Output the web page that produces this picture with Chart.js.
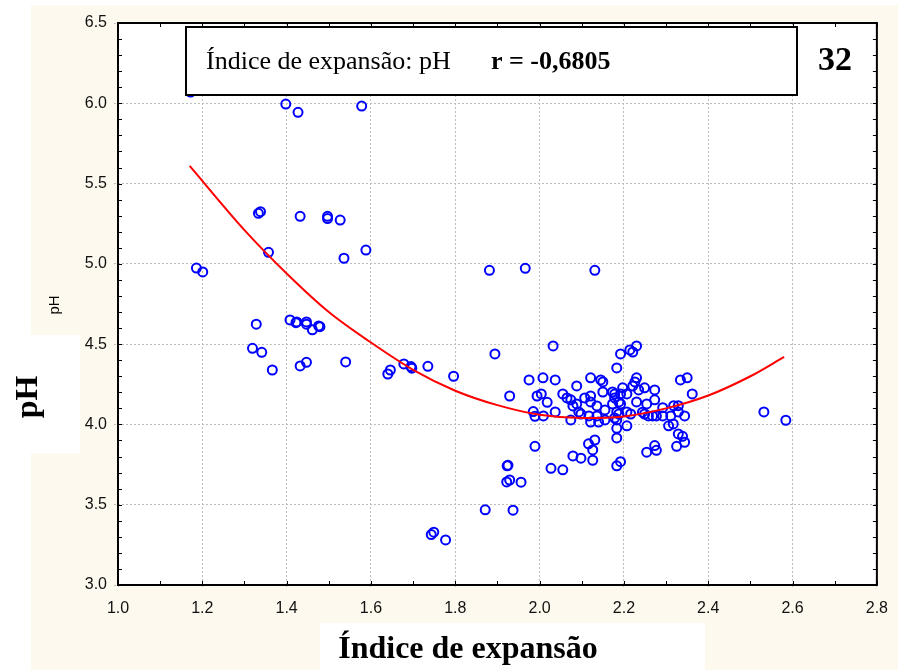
<!DOCTYPE html>
<html lang="pt">
<head>
<meta charset="UTF-8" />
<title>Índice de expansão: pH</title>
<script src="https://cdn.jsdelivr.net/npm/chart.js@4.4.0/dist/chart.umd.min.js"></script>
<style>
  html, body { margin: 0; padding: 0; background: #fff; }
  #chart { display: block; }
</style>
</head>
<body>
<canvas id="chart" width="898" height="670"></canvas>
<script>
  //data
  const phX = [
    1.172, 1.398, 1.427, 1.578, 1.186, 1.201, 1.333, 1.338, 1.357, 1.432,
    1.497, 1.497, 1.527, 1.536, 1.588, 1.328, 1.319, 1.341, 1.366, 1.408,
    1.422, 1.424, 1.447, 1.447, 1.461, 1.476, 1.479, 1.432, 1.447, 1.540,
    1.640, 1.646, 1.678, 1.697, 1.695, 1.735, 1.796, 1.894, 1.871, 1.743,
    1.749, 1.777, 1.881, 1.966, 2.131, 2.032, 2.192, 2.214, 2.230, 2.221,
    2.183, 2.334, 2.350, 2.362, 2.532, 2.584, 1.929, 1.975, 2.008, 2.037,
    1.994, 2.004, 2.018, 1.985, 1.989, 2.009, 2.037, 1.989, 1.923, 1.925,
    1.922, 1.929, 1.956, 1.937, 2.027, 2.055, 2.079, 2.098, 2.116, 2.131,
    2.126, 2.126, 2.183, 2.192, 2.183, 2.183, 2.207, 2.254, 2.273, 2.277,
    2.325, 2.339, 2.344, 2.329, 2.306, 2.317, 2.344, 2.329, 2.329, 2.318,
    2.311, 2.292, 2.292, 2.277, 2.268, 2.249, 2.258, 2.244, 2.273, 2.273,
    2.249, 2.254, 2.230, 2.235, 2.230, 2.226, 2.221, 2.197, 2.207, 2.192,
    2.192, 2.178, 2.173, 2.183, 2.216, 2.207, 2.188, 2.178, 2.183, 2.155,
    2.150, 2.145, 2.150, 2.121, 2.121, 2.107, 2.088, 2.074, 2.079, 2.088,
    2.093, 2.098, 2.117, 2.121, 2.140, 2.136, 2.121, 2.136, 2.155, 2.074,
    2.055, 2.065, 2.173, 2.178, 2.188
  ];
  const phY = [
    6.07, 5.995, 5.944, 5.983, 4.974, 4.950, 5.315, 5.325, 5.072, 5.296,
    5.296, 5.282, 5.273, 5.035, 5.086, 4.624, 4.474, 4.449, 4.339, 4.651,
    4.634, 4.638, 4.638, 4.624, 4.589, 4.613, 4.609, 4.364, 4.387, 4.389,
    4.314, 4.339, 4.377, 4.350, 4.360, 4.362, 4.300, 4.439, 3.468, 3.314,
    3.329, 3.281, 4.960, 4.972, 4.960, 4.489, 4.439, 4.464, 4.489, 4.451,
    4.352, 4.277, 4.290, 4.190, 4.078, 4.026, 4.177, 4.277, 4.290, 4.277,
    4.177, 4.190, 4.138, 4.080, 4.051, 4.053, 4.078, 3.864, 3.742, 3.745,
    3.642, 3.654, 3.640, 3.466, 3.727, 3.717, 3.804, 3.790, 3.879, 3.903,
    3.841, 3.777, 3.742, 3.768, 3.916, 3.976, 3.991, 3.827, 3.868, 3.839,
    3.864, 3.926, 3.889, 3.941, 3.991, 4.003, 4.053, 4.078, 4.117, 4.117,
    4.053, 4.104, 4.053, 4.053, 4.053, 4.065, 4.053, 4.076, 4.153, 4.215,
    4.228, 4.128, 4.140, 4.215, 4.290, 4.265, 4.240, 4.228, 4.190, 4.190,
    4.128, 4.190, 4.128, 4.078, 4.065, 4.078, 4.065, 4.040, 4.028, 4.090,
    4.202, 4.277, 4.265, 4.290, 4.177, 4.165, 4.240, 4.153, 4.115, 4.128,
    4.078, 4.065, 4.053, 4.015, 4.015, 4.115, 4.140, 4.053, 4.028, 4.028,
    4.190, 4.165, 4.202, 4.165, 4.140
  ];

  // fitted curve
  const fitX = [1.17, 1.3, 1.4, 1.5, 1.6, 1.7, 1.8, 1.9, 2.0, 2.1, 2.2, 2.3, 2.4, 2.5, 2.58];
  const fitY = [5.61, 5.21, 4.94, 4.70, 4.51, 4.34, 4.21, 4.12, 4.06, 4.04, 4.05, 4.10, 4.18, 4.30, 4.42];

  const xTitle = 'Índice de expansão';
  const yTitle = 'pH';
  const boxText = 'Índice de expansão: pH';
  const boxR = 'r = -0,6805';
  const plotNo = '32';

  const sans = '"Liberation Sans", Arial, sans-serif';
  const serif = '"Liberation Serif", "Times New Roman", serif';
  const cream = '#fdf9ee';

  //plugin: page background, titles, box, frame
  const decor = {
    id: 'decor',
    beforeDraw(chart) {
      const c = chart.ctx;
      const a = chart.chartArea;
      c.save();
      c.fillStyle = '#fff';
      c.fillRect(0, 0, chart.width, chart.height);
      c.fillStyle = cream;
      c.fillRect(31, 5, chart.width - 31, chart.height - 5);
      c.fillStyle = '#fff';
      c.fillRect(a.left, a.top, a.right - a.left, a.bottom - a.top);
      c.fillRect(31, 335, 49, 118);
      c.fillRect(320, 623, 385, 47);

      c.fillStyle = '#000';
      // small default axis label
      c.font = '15px ' + sans;
      c.textAlign = 'center';
      c.textBaseline = 'middle';
      c.save();
      c.translate(55, 305);
      c.rotate(-Math.PI / 2);
      c.fillText(yTitle, 0, 0);
      c.restore();

      // big titles
      c.font = 'bold 32px ' + serif;
      c.textBaseline = 'alphabetic';
      c.save();
      c.translate(37, 397);
      c.rotate(-Math.PI / 2);
      c.fillText(yTitle, 0, 0);
      c.restore();
      c.fillText(xTitle, 468, 658);
      c.restore();
    },
    afterDraw(chart) {
      const c = chart.ctx;
      const a = chart.chartArea;
      const xs = chart.scales.x;
      const ys = chart.scales.y;
      c.save();

      // label box
      c.fillStyle = '#fff';
      c.fillRect(186, 27, 611, 68);
      c.strokeStyle = '#000';
      c.lineWidth = 2;
      c.strokeRect(186, 27, 611, 68);
      c.fillStyle = '#000';
      c.textAlign = 'left';
      c.textBaseline = 'alphabetic';
      c.font = '26px ' + serif;
      c.fillText(boxText, 206, 69);
      c.font = 'bold 26px ' + serif;
      c.fillText(boxR, 491, 69);
      c.font = 'bold 34px ' + serif;
      c.textAlign = 'center';
      c.fillText(plotNo, 835, 70);

      // inner minor ticks
      c.lineWidth = 1;
      c.beginPath();
      for (let i = 30; i <= 65; i++) {
        const py = Math.round(ys.getPixelForValue(i / 10)) + 0.5;
        c.moveTo(a.left, py); c.lineTo(a.left + 4, py);
        c.moveTo(a.right, py); c.lineTo(a.right - 4, py);
      }
      for (let i = 10; i <= 28; i++) {
        const px = Math.round(xs.getPixelForValue(i / 10)) + 0.5;
        c.moveTo(px, a.bottom); c.lineTo(px, a.bottom - 4);
        c.moveTo(px, a.top); c.lineTo(px, a.top + 4);
      }
      c.stroke();

      // frame
      c.lineWidth = 2;
      c.strokeRect(a.left, a.top, a.right - a.left, a.bottom - a.top);
      c.restore();
    }
  };

  const gridOpts = {
    color: '#bdbdbd',
    tickColor: '#bdbdbd',
    tickLength: 4,
    tickBorderDash: [2, 2],
    lineWidth: 1
  };

  //config
  const config = {
    type: 'scatter',
    data: {
      datasets: [
        {
          data: fitX.map((x, i) => ({ x: x, y: fitY[i] })),
          showLine: true,
          borderColor: '#ff0000',
          borderWidth: 2,
          pointRadius: 0,
          pointHoverRadius: 0,
          fill: false,
          cubicInterpolationMode: 'monotone'
        },
        {
          data: phX.map((x, i) => ({ x: x, y: phY[i] })),
          pointRadius: 4.5,
          pointHoverRadius: 4.5,
          borderWidth: 2,
          borderColor: '#0000ff',
          backgroundColor: 'rgba(0,0,0,0)'
        }
      ]
    },
    options: {
      responsive: false,
      animation: false,
      devicePixelRatio: 1,
      layout: { padding: { left: 0, right: 17, top: 23, bottom: 0 } },
      plugins: { legend: { display: false }, tooltip: { enabled: false } },
      scales: {
        x: {
          type: 'linear',
          min: 1,
          max: 2.8,
          ticks: {
            stepSize: 0.2,
            autoSkip: false,
            maxRotation: 0,
            padding: 10,
            color: '#111',
            font: { family: sans, size: 16 },
            callback: (v) => v.toFixed(1)
          },
          grid: gridOpts,
          border: { display: false, dash: [2, 2] },
          afterFit(s) { s.height = 85; }
        },
        y: {
          min: 3,
          max: 6.5,
          ticks: {
            stepSize: 0.5,
            padding: 7,
            color: '#111',
            font: { family: sans, size: 16 },
            callback: (v) => v.toFixed(1)
          },
          grid: gridOpts,
          border: { display: false, dash: [2, 2] },
          afterFit(s) { s.width = 118; }
        }
      }
    },
    plugins: [decor]
  };

  //init
  const chart = new Chart(document.getElementById('chart'), config);
</script>
</body>
</html>
